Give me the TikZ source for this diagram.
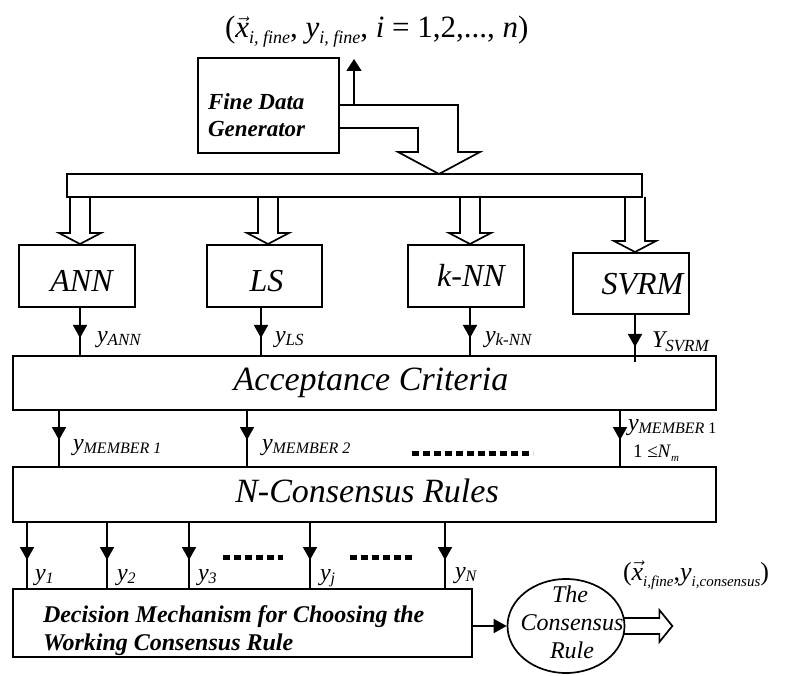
\documentclass[tikz,border=0pt]{standalone}
\usepackage{fontspec}
\setmainfont{Liberation Serif}
\usetikzlibrary{arrows.meta,decorations.markings,calc,shapes.geometric}
\newcommand\fs[1]{\fontsize{#1}{#1}\selectfont}
\newcommand\lo[3]{\raisebox{-#1pt}{\fontsize{#2}{#2}\selectfont\itshape #3}}
\newcommand\vx{\ensuremath{\vec{\mbox{\itshape x}}}}
\newcommand\hollowdown[3]{%
  \draw[line] let \p1=(#2.south), \p2=(#3.north) in
    ({#1pt-10pt},\y1) -- ({#1pt-10pt},\y2+12pt) -- ({#1pt-21pt},\y2+12pt) --
    (#1pt,\y2+1pt) -- ({#1pt+21pt},\y2+12pt) -- ({#1pt+10pt},\y2+12pt) -- ({#1pt+10pt},\y1);}
\begin{document}
\begin{tikzpicture}[x=1pt,y=1pt,
  line/.style={line width=1.7pt, line join=miter},
  box/.style={draw, line width=1.7pt, inner sep=0pt, outer sep=0pt},
  lbl/.style={anchor=base west, inner sep=0pt, outer sep=0pt},
  ctext/.style={anchor=base, inner sep=0pt, outer sep=0pt},
  midarr/.style={line width=1.7pt, postaction={decorate},
    decoration={markings, mark=at position #1 with {\arrow{Triangle[length=13pt,width=14pt]}}}},
  dotrow/.style={line width=5pt, dash pattern=on 7pt off 4pt},
]
\useasboundingbox (0,0) rectangle (791,675);

% top: fine data generator
\node[box, minimum width=141pt, minimum height=95pt] (fdg) at (268.5,569.5) {};
\node[lbl, font=\fs{23}\bfseries\itshape] (fdg1) at (208,565) {Fine Data};
\node[lbl, font=\fs{23}\bfseries\itshape] (fdg2) at (208,538) {Generator};
\node[lbl, font=\fs{31}] (toplab) at (225,637)
  {(\vx\lo{6}{18}{i, fine}, \textit{y}\lo{6}{18}{i, fine}, \textit{i} = 1,2,..., \textit{n})};

% distribution bar
\node[box, minimum width=575pt, minimum height=23pt] (bar) at (354.5,489.5) {};

% hollow arrow from generator to bar
\draw[line] let \p1=(fdg.east), \p2=(bar.north) in
  (\x1,570pt) -- (458pt,570pt) -- (458pt,\y2+22pt) -- (480pt,\y2+22pt) -- (439pt,\y2)
  -- (398pt,\y2+22pt) -- (418pt,\y2+22pt) -- (418pt,547pt) -- (\x1,547pt);
\coordinate (up0) at (354,570);
\coordinate (upend) at (354,616);
\draw[line, -{Triangle[length=12pt,width=15pt]}] (up0) -- (upend);

% member boxes
\node[box, minimum width=116pt, minimum height=62pt] (ann) at (77,399) {};
\node[box, minimum width=115pt, minimum height=62pt] (ls) at (264.5,399) {};
\node[box, minimum width=116pt, minimum height=62pt] (knn) at (466,399) {};
\node[box, minimum width=116pt, minimum height=61pt] (svrm) at (631,391.5) {};
\node[ctext, font=\fs{32}\itshape] (annt) at (81.5,383) {ANN};
\node[ctext, font=\fs{32}\itshape] (lst) at (266.5,383) {LS};
\node[ctext, font=\fs{32}\itshape] (knnt) at (471,388) {k-NN};
\node[ctext, font=\fs{32}\itshape] (svrmt) at (642.5,380) {SVRM};

\hollowdown{80}{bar}{ann}
\hollowdown{268}{bar}{ls}
\hollowdown{470}{bar}{knn}
\hollowdown{635}{bar}{svrm}

% acceptance criteria
\node[box, minimum width=703pt, minimum height=54pt] (acc) at (364.5,292) {};
\node[ctext, font=\fs{34}\itshape] (acct) at (371,285) {Acceptance Criteria};

\draw[midarr=31pt] ($(ann.south)+(3,0)$) coordinate (a1) -- (a1 |- acc.north);
\draw[midarr=31pt] ($(ls.south)+(-3.5,0)$) coordinate (a2) -- (a2 |- acc.north);
\draw[midarr=31pt] ($(knn.south)+(4,0)$) coordinate (a3) -- (a3 |- acc.north);
\draw[midarr=33pt] ($(svrm.south)+(4,0)$) coordinate (a4) -- ($(a4 |- acc.north)+(0,-6)$);
\node[lbl, font=\fs{24}\itshape] (lann) at (97,332) {y\lo{3}{17}{ANN}};
\node[lbl, font=\fs{24}\itshape] (lls) at (275,332) {y\lo{3}{17}{LS}};
\node[lbl, font=\fs{24}\itshape] (lknn) at (485,332) {y\lo{3}{17}{k-NN}};
\node[lbl, font=\fs{24}\itshape] (lsvrm) at (652,327) {Y\lo{4}{17}{SVRM}};

% N-consensus rules
\node[box, minimum width=703pt, minimum height=55pt] (ncr) at (364.5,180.5) {};
\node[ctext, font=\fs{34}\itshape] (ncrt) at (367,173) {N-Consensus Rules};

\draw[midarr=30pt] ($(acc.south west)+(46,0)$) coordinate (b1) -- (b1 |- ncr.north);
\draw[midarr=30pt] ($(acc.south west)+(234,0)$) coordinate (b2) -- (b2 |- ncr.north);
\draw[midarr=30pt] ($(acc.south west)+(607,0)$) coordinate (b3) -- (b3 |- ncr.north);
\node[lbl, font=\fs{24}\itshape] (lm1) at (73,225) {y\lo{3}{16}{MEMBER 1}};
\node[lbl, font=\fs{24}\itshape] (lm2) at (262,225) {y\lo{3}{16}{MEMBER 2}};
\node[lbl, font=\fs{24}\itshape] (lmr) at (628,245) {y\lo{3}{16}{MEMBER}\raisebox{-3pt}{\fs{16}\upshape\ 1}};
\node[lbl, font=\fs{19}] (lnm) at (633,218) {1 ≤\textit{N}\lo{4}{11}{m}};
\draw[dotrow] (412,222) -- (533,222);

% decision mechanism
\node[box, minimum width=459pt, minimum height=68pt] (dec) at (242.5,52) {};
\node[lbl, font=\fs{24}\bfseries\itshape] (dec1) at (43,53) {Decision Mechanism for Choosing the};
\node[lbl, font=\fs{24}\bfseries\itshape] (dec2) at (43,25) {Working Consensus Rule};

\draw[midarr=38pt] ($(ncr.south west)+(14,0)$) coordinate (c1) -- (c1 |- dec.north);
\draw[midarr=38pt] ($(ncr.south west)+(94,0)$) coordinate (c2) -- (c2 |- dec.north);
\draw[midarr=38pt] ($(ncr.south west)+(176,0)$) coordinate (c3) -- (c3 |- dec.north);
\draw[midarr=38pt] ($(ncr.south west)+(297,0)$) coordinate (c4) -- (c4 |- dec.north);
\draw[midarr=38pt] ($(ncr.south west)+(432,0)$) coordinate (c5) -- (c5 |- dec.north);
\node[lbl, font=\fs{24}\itshape] (ly1) at (35,95) {y\lo{3}{16}{1}};
\node[lbl, font=\fs{24}\itshape] (ly2) at (117,95) {y\lo{3}{16}{2}};
\node[lbl, font=\fs{24}\itshape] (ly3) at (198,95) {y\lo{3}{16}{3}};
\node[lbl, font=\fs{24}\itshape] (lyj) at (320,95) {y\lo{3}{16}{j}};
\node[lbl, font=\fs{24}\itshape] (lyn) at (455,97) {y\lo{3}{16}{N}};
\draw[dotrow] (223,118) -- (283,118);
\draw[dotrow] (350,118) -- (412,118);

% consensus rule circle
\node[draw, ellipse, line width=1.7pt, inner sep=0pt, minimum width=117pt, minimum height=94pt] (circ) at (566,49) {};
\node[ctext, font=\fs{24}\itshape] (ct1) at (570,73) {The};
\node[ctext, font=\fs{24}\itshape] (ct2) at (572,45) {Consensus};
\node[ctext, font=\fs{24}\itshape] (ct3) at (572,17) {Rule};
\draw[line, -{Triangle[length=13pt,width=14pt]}] (dec.east |- circ.west) -- (circ.west);
\draw[line] let \p1=(circ.east) in
  (\x1-2pt,\y1+8pt) -- (\x1+34pt,\y1+8pt) -- (\x1+34pt,\y1+16pt) -- (\x1+47pt,\y1)
  -- (\x1+34pt,\y1-16pt) -- (\x1+34pt,\y1-8pt) -- (\x1-2pt,\y1-8pt);
\node[lbl, font=\fs{26}] (outlab) at (623,95)
  {(\vx\lo{6}{15}{i,fine},\textit{y}\lo{6}{15}{i,consensus})};
\end{tikzpicture}
\end{document}
